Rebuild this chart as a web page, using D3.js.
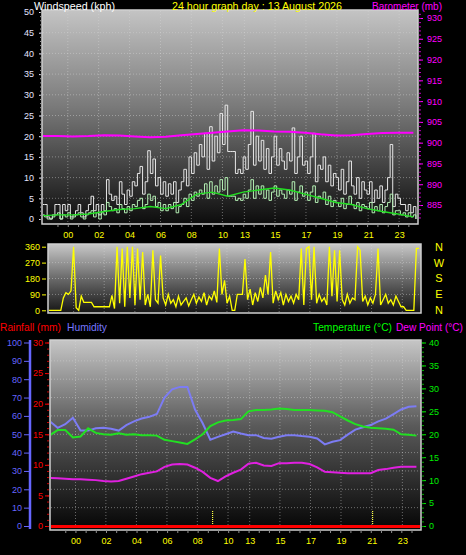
<!DOCTYPE html>
<html><head><meta charset="utf-8">
<script src="https://cdn.jsdelivr.net/npm/d3@7"></script>
<style>body{margin:0;background:#000;overflow:hidden}svg{display:block}</style>
</head><body><svg id="c" width="466" height="555"></svg>
<script>
// ---------------- DATA ----------------
const titleText = "24 hour graph day : 13 August 2026";
const tickLabels = ["00","02","04","06","08","10","13","15","17","19","21","23"];
const tickHours = [1.67,3.66,5.66,7.66,9.65,11.66,13.08,15.06,17.06,19.06,21.08,23.08]; // elapsed hours from left edge
const spanHours = 24.3;
const windStepHours = 1/6;   // 10-minute samples
const windGust = [
 3.5,3.5,0.5,0,1,3.5, 3.5,0,3.5,2,3.5,0.5, 1,2,3.5,1.5,0.5,2, 3.5,5.5,2,3.5,1,3.5,
 2,9.5,6,4.5,5.5,3.5, 9,6,3.5,7,5.5,9, 8,11,12.7,6,9,16.5, 11,14.5,8,10,6,9,
 5.5,8.5,6,9,4,7, 9,12,8,15,11,16, 13,18,15,20.7,12,22.3, 14,20,16,25.5,18,27.5,
 16.3,16.3,16.3,11,12,11, 15,12,18,26,13,20, 14,19,12,17,11,15, 20,13,17,14,12,16,
 14,22,11,15,20,13, 14,11,15,20.7,9,13, 12,15,9,13,8,11, 10,7,12,6,9,14,
 8,6,10,5,9,7, 6,9,4,7,5,8, 4,7,10,18,3,6, 5,3.5,3.5,2,3.5,1.5, 3,0];
const windAvg = [
 1,0.5,0,0,0.5,1, 1.5,0,1,0.5,1.5,0, 0.5,1,1.5,0.5,0,1, 1.5,2,0.5,1.5,0,1.5,
 1,4,3,2,2.5,1.5, 3.5,2.5,1.5,3,2,3.5, 3,4.5,5,2.5,3.5,6, 4.5,5.5,3,4,2,3.5,
 2,3.5,2.5,4,1.5,3, 3.5,5,3,6,4.5,6.5, 5.5,7,6,8.5,5,9, 6,8,6.5,9.5,7,10,
 5.5,5.5,5.5,4.5,5,4.5, 6,5,7,9.5,5,8, 6,8,5,7,4.5,6.5, 8,5.5,7,6,5,7,
 6,9,4.5,6.5,8,5.5, 6.5,4.5,6.5,8,4,5.5, 5,6.5,3.5,5.5,3,4.5, 4,3,5,2.5,3.5,5.5,
 3.5,2.5,4,2,3.5,3, 2.5,4,1.5,3,2,3.5, 1.5,3,4,6,1,2, 2,1,1.5,0.5,1.5,0.5, 1,0];
const windAvgTrend = [0.8,1,1,1.2,1.8,2.3,2.5,3,2.5,3.5,6,6.5,5.5,6.5,7,7.5,7,6,5,4,3.5,2.5,1.8,1.2,0.5]; // hourly
const baroHourly = [901.6,901.6,901.5,901.6,901.8,901.7,901.5,901.3,901.4,901.8,902.1,902.4,902.7,903.0,902.9,902.7,902.6,902.4,902.0,901.7,901.8,902.1,902.3,902.4,902.4];
const windDir = [
 0,0,0,0,0,0, 70,100,90,110,360,15, 0,80,45,45,45,45, 20,20,20,20,20,20,
 20,85,10,360,40,350, 20,360,70,360,30,350, 60,330,30,90,20,340, 60,40,310,70,30,90,
 40,60,20,80,30,50, 70,25,60,90,40,75, 50,100,30,80,60,110, 45,350,90,170,40,80,
 0,0,90,90,90,290, 60,120,30,100,50,130, 70,200,90,330,40,110, 60,100,30,90,50,80,
 40,90,60,350,30,350, 360,60,360,40,90,50, 70,30,360,80,340,50, 340,60,30,90,40,70,
 60,360,340,50,80,30, 70,40,90,350,30,60, 90,40,60,30,80,50, 20,20,0,0,0,0, 350,350];
const climateStepHours = 0.5;
const humidity = [57,53.5,55.5,59,52,52,53.3,53.5,53,52,55,57,58.6,59.5,61,70,74.5,75.8,75.8,63.5,56,47,48.6,50,51.5,50.4,49.5,49.5,48,47.5,48.6,49.5,49.5,49,48.6,47.7,44.5,45.9,46.8,49.8,52.5,53.8,55,57,58.5,61,63.5,65,65.3];
const temperature = [19.8,20.9,20.9,19.3,19.5,21.3,20.3,20.0,19.9,20.2,19.9,20.0,19.8,19.8,19.7,18.8,18.5,18.2,17.9,18.9,20.0,21.8,22.6,23.0,23.1,23.3,25.0,25.3,25.3,25.4,25.6,25.5,25.3,25.3,25.3,25.2,25.1,24.8,23.9,23.0,22.2,21.7,21.4,21.3,21.2,21.0,20.0,19.9,19.7];
const dewPoint = [10.5,10.4,10.3,10.2,10.2,10.1,10.0,9.8,9.7,9.8,10.3,10.8,11.3,11.6,11.9,12.9,13.4,13.5,13.4,12.7,11.8,10.5,9.8,10.8,11.6,12.3,13.6,13.8,13.2,13.1,13.7,13.7,13.8,13.8,13.5,12.8,11.8,11.7,11.6,11.5,11.5,11.5,11.5,12.2,12.4,12.7,12.9,12.9,12.9];
const rainfall = [0,0];  // mm, start and end of day
const sunMarkers = [10.65, 21.13];
const dirLetters = ["N","W","S","E","N"];
const dirLetterAngles = [360,270,180,90,0];

// ---------------- DRAW ----------------
const svg = d3.select("#c");
const defs = svg.append("defs");
const FONT = "'Liberation Sans', Arial, sans-serif";

function gradient(id, stops){
  const g = defs.append("linearGradient").attr("id", id).attr("x1",0).attr("y1",0).attr("x2",0).attr("y2",1);
  stops.forEach(s => g.append("stop").attr("offset", s[0]).attr("stop-color", s[1]));
}
gradient("gTop", [[0,"#c4c4c4"],[0.45,"#7a7a7a"],[1,"#0c0c0c"]]);
gradient("gMid", [[0,"#c8c8c8"],[0.5,"#6a6a6a"],[1,"#141414"]]);
gradient("gBot", [[0,"#c6c6c6"],[0.45,"#5a5a5a"],[1,"#050505"]]);

const P = {
  top: {x0:42, x1:418, y0:10, y1:224},
  mid: {x0:48, x1:421, y0:244, y1:313},
  bot: {x0:50, x1:421, y0:340, y1:530}
};
function panel(p, grad, id){
  svg.append("rect").attr("x",p.x0).attr("y",p.y0).attr("width",p.x1-p.x0).attr("height",p.y1-p.y0)
     .attr("fill",`url(#${grad})`).attr("stroke","#cfcfcf").attr("stroke-width",1.5);
  defs.append("clipPath").attr("id",id).append("rect")
     .attr("x",p.x0+1).attr("y",p.y0+1).attr("width",p.x1-p.x0-2).attr("height",p.y1-p.y0-2);
}
panel(P.top,"gTop","cTop");
panel(P.mid,"gMid","cMid");
panel(P.bot,"gBot","cBot");

// scales
const xTop = d3.scaleLinear().domain([0,spanHours]).range([P.top.x0,P.top.x1]);
const yWind = d3.scaleLinear().domain([0,50]).range([219,12]);
const yBaro = d3.scaleLinear().domain([885,930]).range([205,18]);
const xMid = d3.scaleLinear().domain([0,spanHours]).range([P.mid.x0,P.mid.x1]);
const yDir = d3.scaleLinear().domain([0,360]).range([310.3,246.7]);
const xBot = d3.scaleLinear().domain([0,spanHours]).range([P.bot.x0,P.bot.x1]);
const yHum = d3.scaleLinear().domain([0,100]).range([526,342.5]);
const yRain = d3.scaleLinear().domain([0,30]).range([526,342.5]);
const yTemp = d3.scaleLinear().domain([0,40]).range([526,342.5]);

// grids
function grid(p, xs, xVals, ys, yVals){
  const g = svg.append("g").attr("stroke","#d8d8d8").attr("stroke-opacity",0.45).attr("stroke-dasharray","1,2").attr("stroke-width",1);
  xVals.forEach(v => g.append("line").attr("x1",xs(v)).attr("x2",xs(v)).attr("y1",p.y0+1).attr("y2",p.y1-1));
  yVals.forEach(v => g.append("line").attr("y1",ys(v)).attr("y2",ys(v)).attr("x1",p.x0+1).attr("x2",p.x1-1));
}
grid(P.top, xTop, tickHours, yWind, [5,10,15,20,25,30,35,40,45]);
grid(P.mid, xMid, tickHours, yDir, [90,180,270]);
grid(P.bot, xBot, tickHours, yHum, [10,20,30,40,50,60,70,80,90]);

// axis helpers
function styleAxis(g, color, size){
  g.select(".domain").remove();
  g.selectAll("line").attr("stroke", color);
  g.selectAll("text").attr("fill", color).style("font-family", FONT).style("font-size", size+"px");
  return g;
}
function minor(axisFn, scale, vals, pos, color, size, horizontal){
  const a = axisFn(scale).tickValues(vals).tickFormat("").tickSize(size);
  const g = svg.append("g").attr("transform", horizontal ? `translate(0,${pos})` : `translate(${pos},0)`).call(a);
  styleAxis(g, color, 8);
}

// ---- top panel axes
styleAxis(svg.append("g").attr("transform","translate(42,0)")
  .call(d3.axisLeft(yWind).tickValues(d3.range(0,51,5)).tickSize(3).tickPadding(5)), "#e4e4ff", 9);
minor(d3.axisLeft, yWind, d3.range(0,51,1), 42, "#9a9a9a", 2);
styleAxis(svg.append("g").attr("transform","translate(419,0)")
  .call(d3.axisRight(yBaro).tickValues(d3.range(885,931,5)).tickSize(4).tickPadding(4)), "#ff00ff", 9);
minor(d3.axisRight, yBaro, d3.range(882,932,1), 419, "#c000c0", 2);
styleAxis(svg.append("g").attr("transform",`translate(0,${P.top.y1})`)
  .call(d3.axisBottom(xTop).tickValues(tickHours).tickFormat((d,i)=>tickLabels[i]).tickSize(0).tickPadding(8)), "#ffff00", 9);
minor(d3.axisBottom, xTop, d3.range(1.0,24.3,0.667), P.top.y1, "#909090", 3, true);

// ---- top panel data
const gTop = svg.append("g").attr("clip-path","url(#cTop)");
const windT = (d,i) => xTop(i*windStepHours);
gTop.append("path").datum(windGust).attr("fill","none").attr("stroke","#e6e6e6").attr("stroke-width",1)
  .attr("d", d3.line().x(windT).y(d=>yWind(d)).curve(d3.curveStepAfter));
gTop.append("path").datum(windAvg).attr("fill","none").attr("stroke","#b4f0b4").attr("stroke-width",1)
  .attr("d", d3.line().x(windT).y(d=>yWind(d)).curve(d3.curveStepAfter));
gTop.append("path").datum(windAvgTrend).attr("fill","none").attr("stroke","#22dd22").attr("stroke-width",1.4)
  .attr("d", d3.line().x((d,i)=>xTop(i)).y(d=>yWind(d)));
gTop.append("path").datum(baroHourly).attr("fill","none").attr("stroke","#ff00ff").attr("stroke-width",2)
  .attr("d", d3.line().x((d,i)=>xTop(i)).y(d=>yBaro(d)));

// ---- middle panel
styleAxis(svg.append("g").attr("transform","translate(46,0)")
  .call(d3.axisLeft(yDir).tickValues([0,90,180,270,360]).tickSize(4).tickPadding(2)), "#ffff00", 9);
const gMid = svg.append("g").attr("clip-path","url(#cMid)");
gMid.append("path").datum(windDir).attr("fill","none").attr("stroke","#ffff00").attr("stroke-width",1.3)
  .attr("d", d3.line().x((d,i)=>xMid(i*windStepHours)).y(d=>yDir(d)));
svg.append("g").selectAll("text").data(dirLetters).join("text")
  .attr("x",439).attr("y",(d,i)=>yDir(dirLetterAngles[i])).attr("dy","0.36em").attr("text-anchor","middle")
  .attr("fill","#ffff00").style("font-family",FONT).style("font-size","11px").text(d=>d);

// ---- bottom panel axes
const humAx = svg.append("g").attr("transform","translate(30,0)")
  .call(d3.axisLeft(yHum).tickValues(d3.range(0,101,10)).tickSize(6).tickPadding(2));
styleAxis(humAx, "#6666ff", 9);
svg.append("line").attr("x1",30).attr("x2",30).attr("y1",340).attr("y2",529).attr("stroke","#6666ff").attr("stroke-width",2.5);
styleAxis(svg.append("g").attr("transform","translate(49,0)")
  .call(d3.axisLeft(yRain).tickValues(d3.range(0,31,5)).tickSize(4).tickPadding(2)), "#ff0000", 9);
minor(d3.axisLeft, yRain, d3.range(0,31,1), 49, "#cc0000", 2);
styleAxis(svg.append("g").attr("transform","translate(422,0)")
  .call(d3.axisRight(yTemp).tickValues(d3.range(0,41,5)).tickSize(4).tickPadding(3)), "#00ee00", 9);
minor(d3.axisRight, yTemp, d3.range(0,41,1), 422, "#00aa00", 2);
styleAxis(svg.append("g").attr("transform",`translate(0,${P.bot.y1})`)
  .call(d3.axisBottom(xBot).tickValues(tickHours).tickFormat((d,i)=>tickLabels[i]).tickSize(0).tickPadding(8)), "#ffff00", 9);
minor(d3.axisBottom, xBot, d3.range(1.0,24.3,0.667), P.bot.y1, "#909090", 3, true);

// ---- bottom panel data
const gBot = svg.append("g").attr("clip-path","url(#cBot)");
const cT = (d,i) => xBot(i*climateStepHours);
gBot.append("g").selectAll("line").data(sunMarkers).join("line")
  .attr("x1",d=>xBot(d)).attr("x2",d=>xBot(d)).attr("y1",511).attr("y2",529)
  .attr("stroke","#ffff40").attr("stroke-width",1.2).attr("stroke-dasharray","1,1");
gBot.append("path").datum(humidity).attr("fill","none").attr("stroke","#7c7cf4").attr("stroke-width",2)
  .attr("d", d3.line().x(cT).y(d=>yHum(d)));
gBot.append("path").datum(temperature).attr("fill","none").attr("stroke","#22e022").attr("stroke-width",2)
  .attr("d", d3.line().x(cT).y(d=>yTemp(d)));
gBot.append("path").datum(dewPoint).attr("fill","none").attr("stroke","#e020e0").attr("stroke-width",2)
  .attr("d", d3.line().x(cT).y(d=>yTemp(d)));
gBot.append("path").datum(rainfall).attr("fill","none").attr("stroke","#ff0000").attr("stroke-width",3)
  .attr("d", d3.line().x((d,i)=>xBot(i*spanHours)).y(d=>yRain(d)+0.5));

// ---- titles
function title(x, y, txt, color, len, size){
  svg.append("text").attr("x",x).attr("y",y).attr("fill",color).style("font-family",FONT).style("font-size",(size||12)+"px")
    .attr("textLength",len).attr("lengthAdjust","spacingAndGlyphs").text(txt);
}
title(34, 9.5, "Windspeed (kph)", "#ffffff", 81, 11.5);
title(172, 9.5, titleText, "#ffff00", 170, 11);
title(372, 9.5, "Barometer (mb)", "#ff00ff", 70, 11.5);
title(0, 331, "Rainfall (mm)", "#ff0000", 61, 11.5);
title(67, 331, "Humidity", "#7777ff", 40, 11.5);
title(313, 331, "Temperature (°C)", "#00ff00", 79, 10);
title(396, 331, "Dew Point (°C)", "#ff00ff", 67, 10);
</script></body></html>
